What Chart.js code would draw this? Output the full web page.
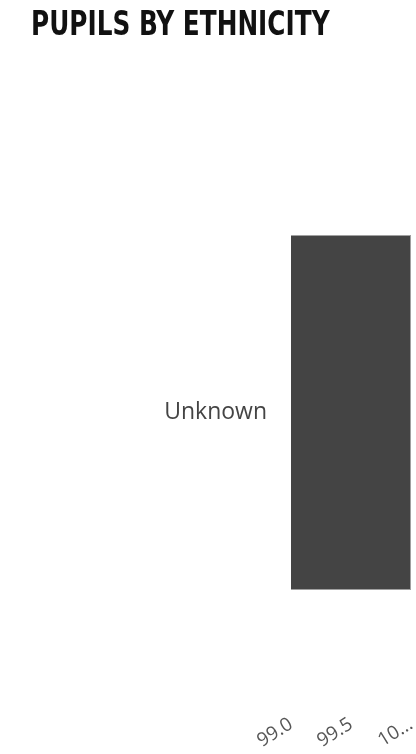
<!DOCTYPE html>
<html>
<head>
<meta charset="utf-8">
<script src="https://cdn.jsdelivr.net/npm/chart.js@4"></script>
<style>
  html, body { margin: 0; padding: 0; background: #fff; }
  #wrap { width: 416px; height: 754px; position: relative; }
  #title {
    position: absolute; left: 31px; top: 3px; margin: 0;
    font-family: 'DejaVu Sans Condensed', sans-serif; font-weight: bold;
    font-size: 34px; color: #111; white-space: nowrap;
    transform-origin: 0 0; transform: scaleX(0.81);
  }
</style>
</head>
<body>
<div id="wrap">
  <h2 id="title">PUPILS BY ETHNICITY</h2>
  <canvas id="myChart"></canvas>
</div>
<script>
// data
var categories = ['Unknown'];
var pupils = [100];
var tickLabels = ['99.0', '99.5', '10...'];

const ctx = document.getElementById('myChart');

var cfg = {
  type: 'bar',
  data: {
    labels: categories,
    datasets: [{
      label: 'Pupils',
      data: pupils,
      backgroundColor: '#444444',
      borderColor: '#a0a0a0',
      borderWidth: 1,
      borderSkipped: false
    }]
  },
  options: {
    indexAxis: 'y',
    responsive: true,
    maintainAspectRatio: false,
    animation: false,
    layout: {
      padding: { top: 166, right: 5, bottom: 0, left: 0 }
    },
    plugins: {
      legend: { display: false },
      tooltip: { enabled: false }
    },
    scales: {
      x: {
        min: 99,
        max: 100,
        grid: { display: false },
        border: { display: false },
        afterFit: function (s) { s.height = 95; s.paddingLeft = 0; s.paddingRight = 0; },
        ticks: {
          stepSize: 0.5,
          minRotation: 32,
          maxRotation: 32,
          color: '#555',
          padding: 46,
          font: { family: 'Open Sans', size: 19 },
          callback: function (v, i) { return tickLabels[i]; }
        }
      },
      y: {
        grid: { display: false },
        border: { display: false },
        afterFit: function (s) { s.width = 291; },
        ticks: {
          color: '#444',
          padding: 16,
          font: { family: 'Open Sans', size: 23 }
        }
      }
    }
  }
};

myChart1 = new Chart(ctx, cfg);
</script>
</body>
</html>
